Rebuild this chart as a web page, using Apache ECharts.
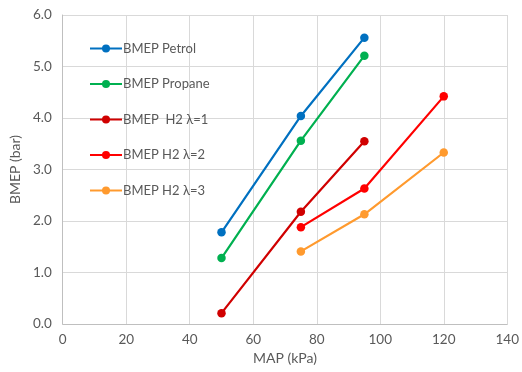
<!DOCTYPE html>
<html><head><meta charset="utf-8">
<script src="https://cdn.jsdelivr.net/npm/echarts@6/dist/echarts.min.js"></script>
<style>html,body{margin:0;padding:0;background:#fff}#c{width:522px;height:372px}</style>
</head><body><div id="c"></div>
<script>
const seriesNames = ['BMEP Petrol', 'BMEP Propane', 'BMEP  H2 λ=1', 'BMEP H2 λ=2', 'BMEP H2 λ=3'];
const petrolX = [50, 75, 95];
const petrolY = [1.78, 4.04, 5.56];
const propaneX = [50, 75, 95];
const propaneY = [1.28, 3.56, 5.21];
const h2l1X = [50, 75, 95];
const h2l1Y = [0.21, 2.18, 3.55];
const h2l2X = [75, 95, 120];
const h2l2Y = [1.88, 2.63, 4.42];
const h2l3X = [75, 95, 120];
const h2l3Y = [1.41, 2.13, 3.33];
const colors = ['#0070C0', '#00B050', '#D00000', '#FF0000', '#FF9A2E'];

const xs = [petrolX, propaneX, h2l1X, h2l2X, h2l3X];
const ys = [petrolY, propaneY, h2l1Y, h2l2Y, h2l3Y];
const font = 'Lato, "Open Sans", sans-serif';
const txt = '#595959';

const chart = echarts.init(document.getElementById('c'), null, {renderer: 'canvas'});
chart.setOption({
  animation: false,
  color: colors,
  grid: {left: 61, right: 10, top: 15, bottom: 48, containLabel: false},
  legend: {
    orient: 'vertical', left: 84, top: 37, padding: [5, 5, 5, 5],
    itemWidth: 32, itemHeight: 10, itemGap: 22.5,
    textStyle: {color: txt, fontFamily: font, fontSize: 13, padding: [0, 0, 0, -4]},
    data: seriesNames
  },
  xAxis: {
    type: 'value', min: 0, max: 140, interval: 20,
    name: 'MAP (kPa)', nameLocation: 'middle', nameGap: 25,
    nameTextStyle: {color: txt, fontFamily: font, fontSize: 14},
    axisLine: {show: true, lineStyle: {color: '#bfbfbf', width: 1}},
    axisTick: {show: false},
    axisLabel: {color: txt, fontFamily: font, fontSize: 13.5, margin: 9},
    splitLine: {show: true, lineStyle: {color: '#d9d9d9', width: 1}}
  },
  yAxis: {
    type: 'value', min: 0, max: 6, interval: 1,
    name: 'BMEP (bar)', nameLocation: 'middle', nameGap: 39,
    nameTextStyle: {color: txt, fontFamily: font, fontSize: 14},
    axisLine: {show: true, lineStyle: {color: '#bfbfbf', width: 1}},
    axisTick: {show: false},
    axisLabel: {color: txt, fontFamily: font, fontSize: 13.5, margin: 11, formatter: v => v.toFixed(1)},
    splitLine: {show: true, lineStyle: {color: '#d9d9d9', width: 1}}
  },
  series: seriesNames.map((n, i) => ({
    name: n, type: 'line',
    data: xs[i].map((x, j) => [x, ys[i][j]]),
    symbol: 'circle', symbolSize: 8.5,
    lineStyle: {width: 2.2, color: colors[i]},
    itemStyle: {color: colors[i]}
  }))
});
</script></body></html>
